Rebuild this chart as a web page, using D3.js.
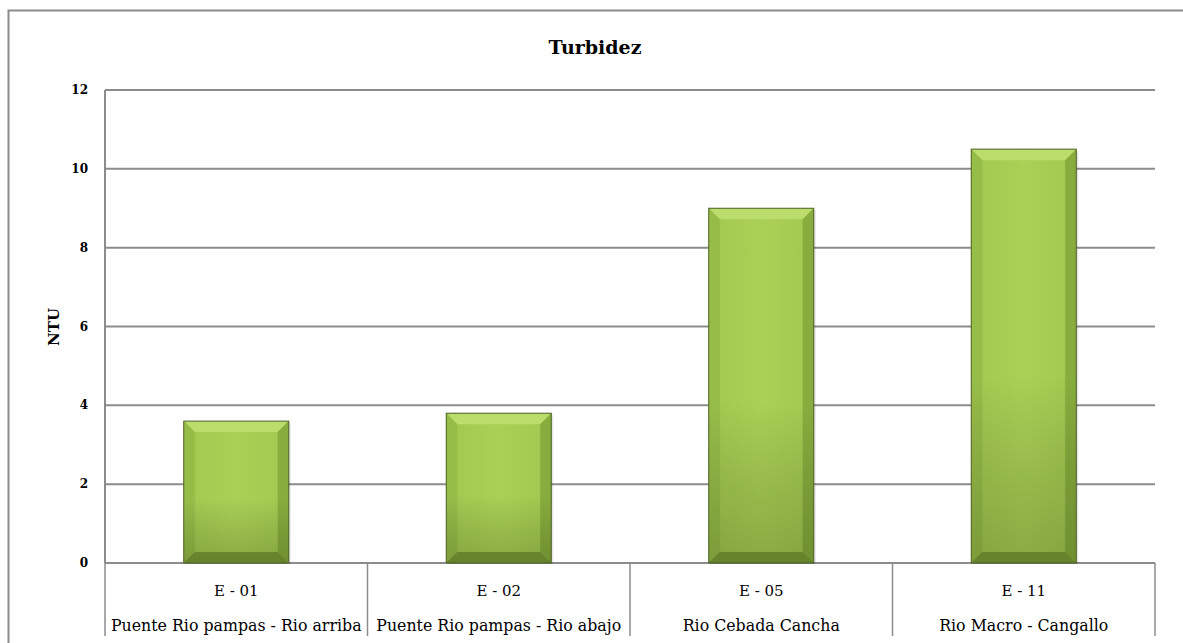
<!DOCTYPE html>
<html><head><meta charset="utf-8">
<script src="https://cdn.jsdelivr.net/npm/d3@7/dist/d3.min.js"></script>
<style>body{margin:0;background:#fff}svg{display:block}text{font-family:"DejaVu Serif","Liberation Serif",serif}</style>
</head><body><svg id="c" width="1183" height="643"></svg>
<script>
const codes = ["E - 01","E - 02","E - 05","E - 11"];
const names = ["Puente Rio pampas - Rio arriba","Puente Rio pampas - Rio abajo","Rio Cebada Cancha","Rio Macro - Cangallo"];
const values = [3.6, 3.8, 9.0, 10.5];
const yTicks = [0,2,4,6,8,10,12];

const svg = d3.select("#c");
const L=105, R=1155, T=90, B=563;
const x = d3.scaleBand().domain(codes).range([L,R]).paddingInner(0).paddingOuter(0);
const y = d3.scaleLinear().domain([0,12]).range([B,T]);

svg.append("rect").attr("x",8.5).attr("y",10.5).attr("width",1190).attr("height",700)
  .attr("fill","none").attr("stroke","#8c8c8c").attr("stroke-width",2);

const defs = svg.append("defs");
const g1 = defs.append("linearGradient").attr("id","face").attr("x1","0").attr("x2","1").attr("y1","0").attr("y2","0");
[[0,"#8fb543"],[0.12,"#a4ca51"],[0.5,"#aad056"],[0.88,"#a4ca51"],[1,"#8aae3f"]].forEach(s=>g1.append("stop").attr("offset",s[0]).attr("stop-color",s[1]));
const gv = defs.append("linearGradient").attr("id","vert").attr("x1","0").attr("x2","0").attr("y1","0").attr("y2","1");
[[0,"#000",0],[0.55,"#000",0.0],[1,"#1a2a00",0.22]].forEach(s=>gv.append("stop").attr("offset",s[0]).attr("stop-color",s[1]).attr("stop-opacity",s[2]));

// gridlines
svg.append("g").selectAll("line").data(yTicks).join("line")
  .attr("x1",L).attr("x2",R).attr("y1",d=>y(d)).attr("y2",d=>y(d))
  .attr("stroke","#8c8c8c").attr("stroke-width",2);
svg.append("line").attr("x1",L).attr("x2",L).attr("y1",T).attr("y2",B).attr("stroke","#8c8c8c").attr("stroke-width",2);

// category dividers
const div = codes.map(c=>x(c)).concat([R]);
svg.append("g").selectAll("line").data(div).join("line")
  .attr("x1",d=>d).attr("x2",d=>d).attr("y1",B).attr("y2",636)
  .attr("stroke","#8c8c8c").attr("stroke-width",1.5);

// y tick labels
svg.append("g").selectAll("text").data(yTicks).join("text")
  .attr("x",88).attr("y",d=>y(d)+4).attr("text-anchor","end")
  .attr("font-size",12).attr("font-weight","bold").attr("fill","#000").text(d=>d);

svg.append("text").attr("transform","translate(59,327) rotate(-90)").attr("text-anchor","middle")
  .attr("font-size",15).attr("font-weight","bold").text("NTU");
svg.append("text").attr("x",595).attr("y",54).attr("text-anchor","middle")
  .attr("font-size",19).attr("font-weight","bold").text("Turbidez");

// bars
const bw = x.bandwidth()*0.4;
const bars = svg.append("g").selectAll("g").data(codes).join("g");
bars.each(function(c,i){
  const g = d3.select(this);
  const x0 = x(c)+(x.bandwidth()-bw)/2, x1 = x0+bw, y0 = y(values[i]), y1 = y(0);
  const e = 11;
  g.append("rect").attr("x",x0+2).attr("y",y0+2).attr("width",bw).attr("height",y1-y0-1).attr("fill","#000").attr("opacity",0.1);
  g.append("rect").attr("x",x0).attr("y",y0).attr("width",bw).attr("height",y1-y0).attr("fill","url(#face)");
  g.append("path").attr("d",`M${x0},${y0}L${x1},${y0}L${x1-e},${y0+e}L${x0+e},${y0+e}Z`).attr("fill","#bcdc6c");
  g.append("path").attr("d",`M${x0},${y0}L${x0+e},${y0+e}L${x0+e},${y1-e}L${x0},${y1}Z`).attr("fill","#97bd49");
  g.append("path").attr("d",`M${x1},${y0}L${x1-e},${y0+e}L${x1-e},${y1-e}L${x1},${y1}Z`).attr("fill","#88ad3e");
  g.append("path").attr("d",`M${x0},${y1}L${x0+e},${y1-e}L${x1-e},${y1-e}L${x1},${y1}Z`).attr("fill","#7a9c37");
  g.append("rect").attr("x",x0).attr("y",y0).attr("width",bw).attr("height",y1-y0).attr("fill","url(#vert)");
  g.append("rect").attr("x",x0).attr("y",y0).attr("width",bw).attr("height",y1-y0).attr("fill","none").attr("stroke","#4f6228").attr("stroke-width",1);
});

// x labels
svg.append("g").selectAll("text").data(codes).join("text")
  .attr("x",d=>x(d)+x.bandwidth()/2).attr("y",596).attr("text-anchor","middle")
  .attr("font-size",15).attr("fill","#000").text(d=>d);
svg.append("g").selectAll("text").data(names).join("text")
  .attr("x",(d,i)=>x(codes[i])+x.bandwidth()/2).attr("y",631).attr("text-anchor","middle")
  .attr("font-size",15.8).attr("fill","#000").text(d=>d);
</script></body></html>
